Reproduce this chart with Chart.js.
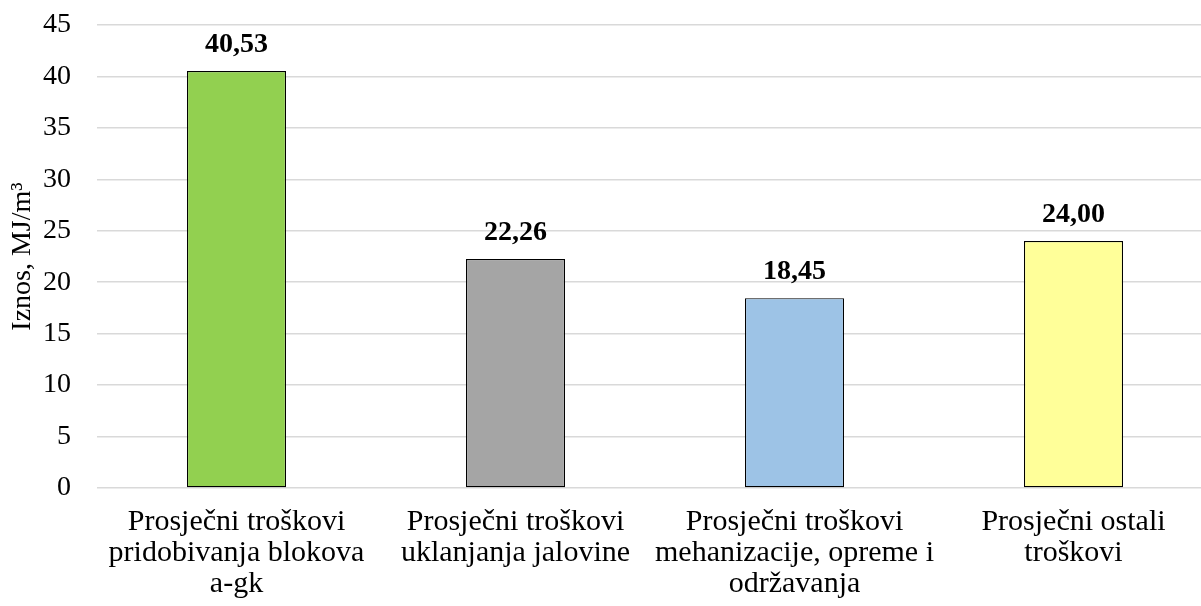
<!DOCTYPE html>
<html>
<head>
<meta charset="utf-8">
<script src="https://cdn.jsdelivr.net/npm/chart.js@4/dist/chart.umd.min.js"></script>
<style>
  html, body { margin: 0; padding: 0; background: #fff; overflow: hidden; }
  #wrap { width: 1201px; height: 606px; overflow: hidden; position: relative; }
  #box { width: 1213px; height: 606px; position: absolute; left: 0; top: 0; }
</style>
</head>
<body>
<div id="wrap"><div id="box"><canvas id="c"></canvas></div></div>
<script>
// Average costs per cubic metre, by cost group
const categories = [
  ['Prosječni troškovi', 'pridobivanja blokova', 'a-gk'],
  ['Prosječni troškovi', 'uklanjanja jalovine'],
  ['Prosječni troškovi', 'mehanizacije, opreme i', 'održavanja'],
  ['Prosječni ostali', 'troškovi']
];
const values = [40.53, 22.26, 18.45, 24.00];
const valueLabels = ['40,53', '22,26', '18,45', '24,00'];
const barColors = ['#92D050', '#A5A5A5', '#9DC3E6', '#FFFF99'];
const yTicks = [0, 5, 10, 15, 20, 25, 30, 35, 40, 45];

const SERIF = '"Liberation Serif", "Times New Roman", serif';

// Bold value printed above each bar
const valueLabelPlugin = {
  id: 'valueLabels',
  afterDatasetsDraw(chart) {
    const ctx = chart.ctx;
    const meta = chart.getDatasetMeta(0);
    ctx.save();
    ctx.font = 'bold 28px ' + SERIF;
    ctx.fillStyle = '#000';
    ctx.textAlign = 'center';
    ctx.textBaseline = 'alphabetic';
    meta.data.forEach((bar, i) => {
      ctx.fillText(valueLabels[i], bar.x, bar.y - 19);
    });
    ctx.restore();
  }
};

new Chart(document.getElementById('c'), {
  type: 'bar',
  data: {
    labels: categories,
    datasets: [{
      data: values,
      backgroundColor: barColors,
      borderColor: '#000',
      borderWidth: 1.2,
      borderSkipped: false,
      barPercentage: 0.355,
      categoryPercentage: 1
    }]
  },
  options: {
    responsive: true,
    maintainAspectRatio: false,
    animation: false,
    devicePixelRatio: 1,
    layout: { padding: { top: 25, left: 0, right: 0, bottom: 0 } },
    plugins: {
      legend: { display: false },
      tooltip: { enabled: false }
    },
    scales: {
      x: {
        grid: { display: false, drawTicks: false },
        border: { display: false },
        ticks: {
          color: '#000',
          font: { family: SERIF, size: 30, lineHeight: '31px' },
          padding: 19,
          maxRotation: 0,
          autoSkip: false
        },
        afterFit(scale) {
          scale.height = 118;
          scale.paddingLeft = 0;
          scale.paddingRight = 0;
        }
      },
      y: {
        min: 0,
        max: 45,
        afterBuildTicks(scale) { scale.ticks = yTicks.map(v => ({ value: v })); },
        grid: { color: '#D9D9D9', lineWidth: 1.5, drawTicks: false },
        border: { display: false },
        ticks: {
          color: '#000',
          font: { family: SERIF, size: 28 },
          padding: 26
        },
        title: {
          display: true,
          text: 'Iznos, MJ/m³',
          color: '#000',
          font: { family: SERIF, size: 28 },
          padding: { top: 6, bottom: 0 }
        },
        afterFit(scale) {
          scale.width = 97;
          scale.paddingTop = 0;
          scale.paddingBottom = 0;
        }
      }
    }
  },
  plugins: [valueLabelPlugin]
});
</script>
</body>
</html>
